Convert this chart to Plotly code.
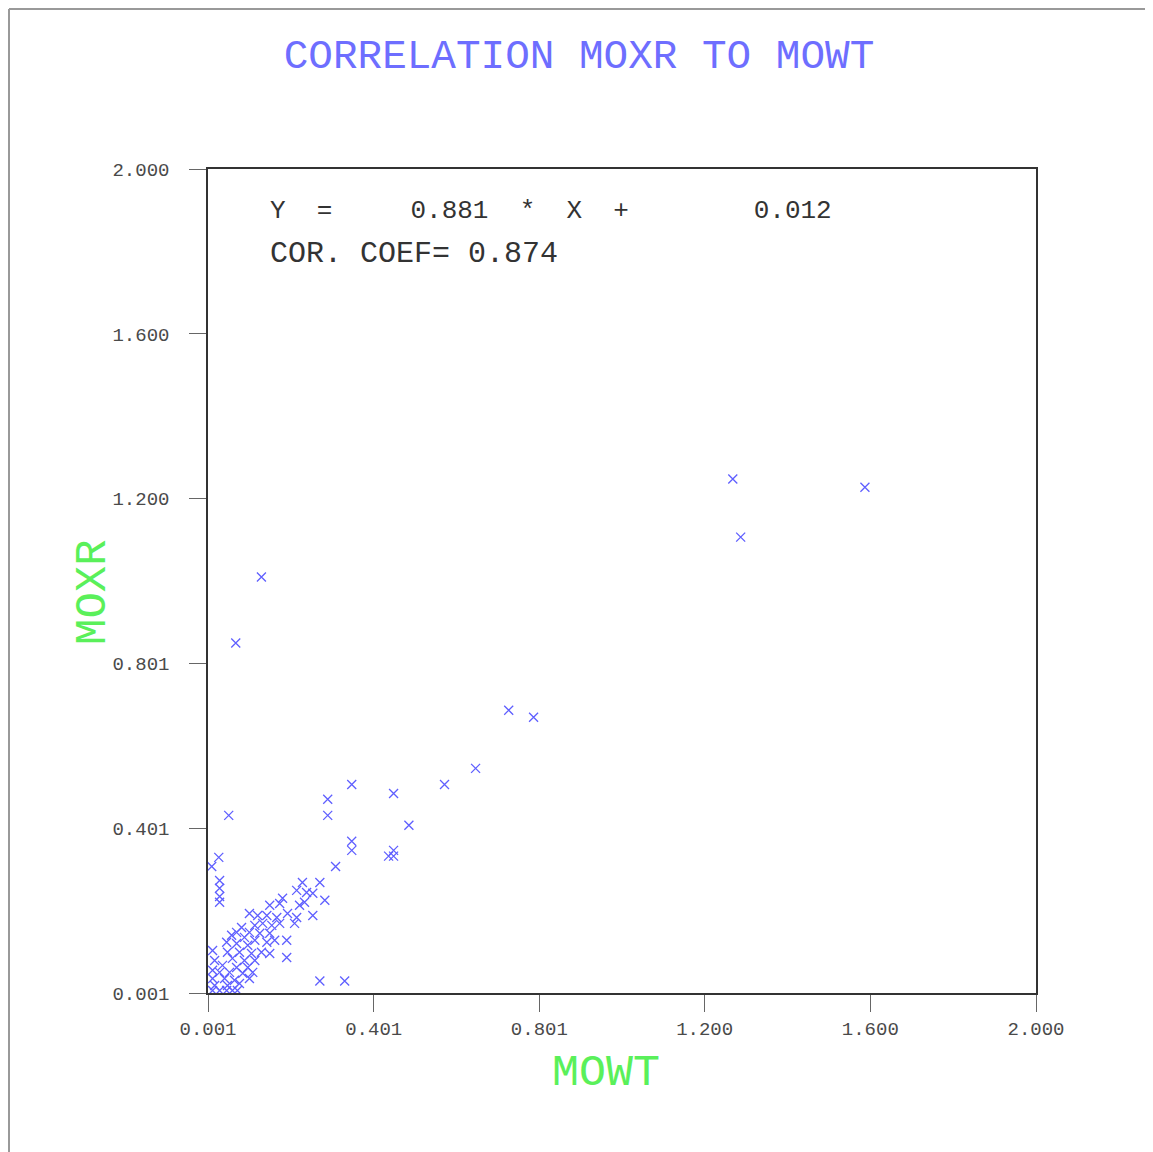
import plotly.graph_objects as go

# Data (MOWT on x, MOXR on y)
mowt = [
    1.268, 1.587, 1.287, 0.130, 0.068, 0.727, 0.787, 0.647, 0.572, 0.348,
    0.449, 0.290, 0.290, 0.051, 0.486, 0.348, 0.348, 0.449, 0.437, 0.449,
    0.309, 0.027, 0.010, 0.029, 0.029, 0.029, 0.271, 0.331,
    0.029, 0.150, 0.174, 0.222, 0.193, 0.215, 0.101, 0.121, 0.143, 0.167,
    0.114, 0.133, 0.155, 0.174, 0.082, 0.101, 0.070, 0.126, 0.150, 0.058,
    0.089, 0.114, 0.143, 0.162, 0.046, 0.070, 0.097, 0.012, 0.048, 0.077,
    0.106, 0.130, 0.150, 0.191, 0.060, 0.089, 0.114, 0.017, 0.036, 0.070,
    0.097, 0.012, 0.029, 0.053, 0.085, 0.109, 0.012, 0.041, 0.065, 0.101,
    0.017, 0.048, 0.077, 0.012, 0.029, 0.046, 0.060, 0.072,
    0.229, 0.271, 0.215, 0.239, 0.254, 0.234, 0.283, 0.181, 0.254, 0.210,
    0.191,
]
moxr = [
    1.248, 1.228, 1.107, 1.010, 0.850, 0.687, 0.670, 0.546, 0.507, 0.507,
    0.485, 0.471, 0.432, 0.432, 0.408, 0.369, 0.347, 0.347, 0.333, 0.333,
    0.308, 0.330, 0.308, 0.274, 0.255, 0.235, 0.030, 0.030,
    0.221, 0.214, 0.218, 0.214, 0.194, 0.184, 0.194, 0.189, 0.189, 0.184,
    0.165, 0.170, 0.165, 0.170, 0.160, 0.148, 0.148, 0.146, 0.146, 0.141,
    0.136, 0.129, 0.124, 0.129, 0.124, 0.121, 0.117, 0.104, 0.100, 0.100,
    0.097, 0.100, 0.097, 0.087, 0.085, 0.080, 0.080, 0.080, 0.068, 0.063,
    0.063, 0.056, 0.051, 0.051, 0.049, 0.051, 0.036, 0.036, 0.032, 0.036,
    0.019, 0.019, 0.024, 0.007, 0.007, 0.007, 0.007, 0.007,
    0.269, 0.269, 0.250, 0.245, 0.243, 0.221, 0.226, 0.231, 0.189, 0.170,
    0.129,
]

tick_vals = [0.001, 0.401, 0.801, 1.200, 1.600, 2.000]
tick_text = ["0.001", "0.401", "0.801", "1.200", "1.600", "2.000"]

title_text = "CORRELATION MOXR TO MOWT"
x_title = "MOWT"
y_title = "MOXR"
eq_line1 = "Y  =     0.881  *  X  +        0.012"
eq_line2 = "COR. COEF= 0.874"

FONT = "Liberation Mono, DejaVu Sans Mono, monospace"
GREEN = "rgb(90,240,90)"

# page is rendered with an 8px body margin; figure sized so plot area lands at
# page x 208..1036, y 169..993
W, H = 1145, 1144
ML, MR, MT, MB = 200, 117, 161, 159
PW, PH = W - ML - MR, H - MT - MB  # 828, 824


def px(page_x):
    return (page_x - 8 - ML) / PW


def py(page_y):
    return (H - MB - (page_y - 8)) / PH


fig = go.Figure()
fig.add_trace(go.Scatter(
    x=mowt, y=moxr, mode="markers",
    marker=dict(symbol="x-thin-open", size=9,
                line=dict(width=1.3, color="rgb(95,95,255)"),
                color="rgb(95,95,255)"),
    showlegend=False, hoverinfo="x+y",
))

axis_common = dict(
    range=[0.001, 2.0], tickmode="array", tickvals=tick_vals, ticktext=tick_text,
    showgrid=False, zeroline=False, showline=True, linecolor="#333333", linewidth=1.5,
    mirror=True, ticks="outside", tickcolor="#666666", tickwidth=1, ticklen=17,
    tickfont=dict(family=FONT, size=19, color="#4a4a4a"),
)

fig.update_layout(
    width=W, height=H,
    margin=dict(l=ML, r=MR, t=MT, b=MB),
    paper_bgcolor="white", plot_bgcolor="white",
    title=dict(text=title_text, x=(579 - 8) / W, xanchor="center",
               y=1 - (54 - 8) / H, yanchor="middle",
               font=dict(family=FONT, size=41, color="rgb(110,110,255)")),
    xaxis=dict(**axis_common),
    yaxis=dict(**axis_common, ticklabelstandoff=16),
)

fig.add_annotation(text=x_title, xref="paper", yref="paper",
                   x=px(606), y=py(1073), xanchor="center", yanchor="middle",
                   showarrow=False, font=dict(family=FONT, size=45, color=GREEN))
fig.add_annotation(text=y_title, xref="paper", yref="paper", textangle=-90,
                   x=px(93), y=py(592), xanchor="center", yanchor="middle",
                   showarrow=False, font=dict(family=FONT, size=44, color=GREEN))

fig.add_annotation(text=eq_line1, xref="paper", yref="paper",
                   x=px(268), y=py(211), xanchor="left", yanchor="middle",
                   showarrow=False, font=dict(family=FONT, size=26, color="#333333"))
fig.add_annotation(text=eq_line2, xref="paper", yref="paper",
                   x=px(268), y=py(254), xanchor="left", yanchor="middle",
                   showarrow=False, font=dict(family=FONT, size=30, color="#333333"))

# outer frame (top and left edges visible in the reference)
top = (H - MB - 1) / PH
left = (1 - ML) / PW
fig.add_shape(type="line", xref="paper", yref="paper",
              x0=left, x1=(W - ML) / PW, y0=top, y1=top,
              line=dict(color="#999999", width=2))
fig.add_shape(type="line", xref="paper", yref="paper",
              x0=left, x1=left, y0=top, y1=-MB / PH,
              line=dict(color="#999999", width=2))

fig.write_html("out.html")
